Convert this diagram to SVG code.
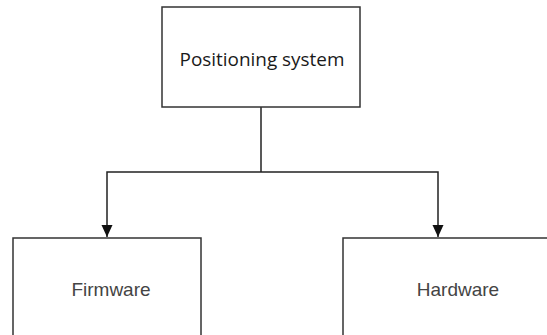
<svg xmlns="http://www.w3.org/2000/svg" width="547" height="335" viewBox="0 0 547 335">
  <style>
    .box { fill: #ffffff; stroke: #333333; stroke-width: 1.5; }
    .edge { fill: none; stroke: #222222; stroke-width: 1.5; }
    .title { font-family: "Open Sans", "Noto Sans", sans-serif; font-size: 18.5px; fill: #1a1a1a; text-anchor: middle; }
    .label { font-family: "Liberation Sans", Arial, sans-serif; font-size: 19px; fill: #444444; text-anchor: middle; }
  </style>
  <defs>
    <marker id="arrow" markerUnits="userSpaceOnUse" markerWidth="13" markerHeight="13" refX="12" refY="6.5" orient="auto">
      <path d="M0,1 L12,6.5 L0,12 Z" fill="#111111"/>
    </marker>
  </defs>
  <rect width="547" height="335" fill="#ffffff"/>

  <g id="connectors">
    <path class="edge" d="M261,107 V172"/>
    <path class="edge" d="M261,172 H107 V237" marker-end="url(#arrow)"/>
    <path class="edge" d="M261,172 H438 V237" marker-end="url(#arrow)"/>
  </g>

  <g id="positioning-system">
    <rect class="box" x="162" y="7" width="198" height="100"/>
    <text class="title" x="262" y="66" textLength="165" lengthAdjust="spacingAndGlyphs">Positioning system</text>
  </g>

  <g id="firmware">
    <rect class="box" x="13" y="238" width="188" height="120"/>
    <text class="label" x="111" y="296">Firmware</text>
  </g>

  <g id="hardware">
    <rect class="box" x="343" y="238" width="230" height="120"/>
    <text class="label" x="458" y="296">Hardware</text>
  </g>
</svg>
